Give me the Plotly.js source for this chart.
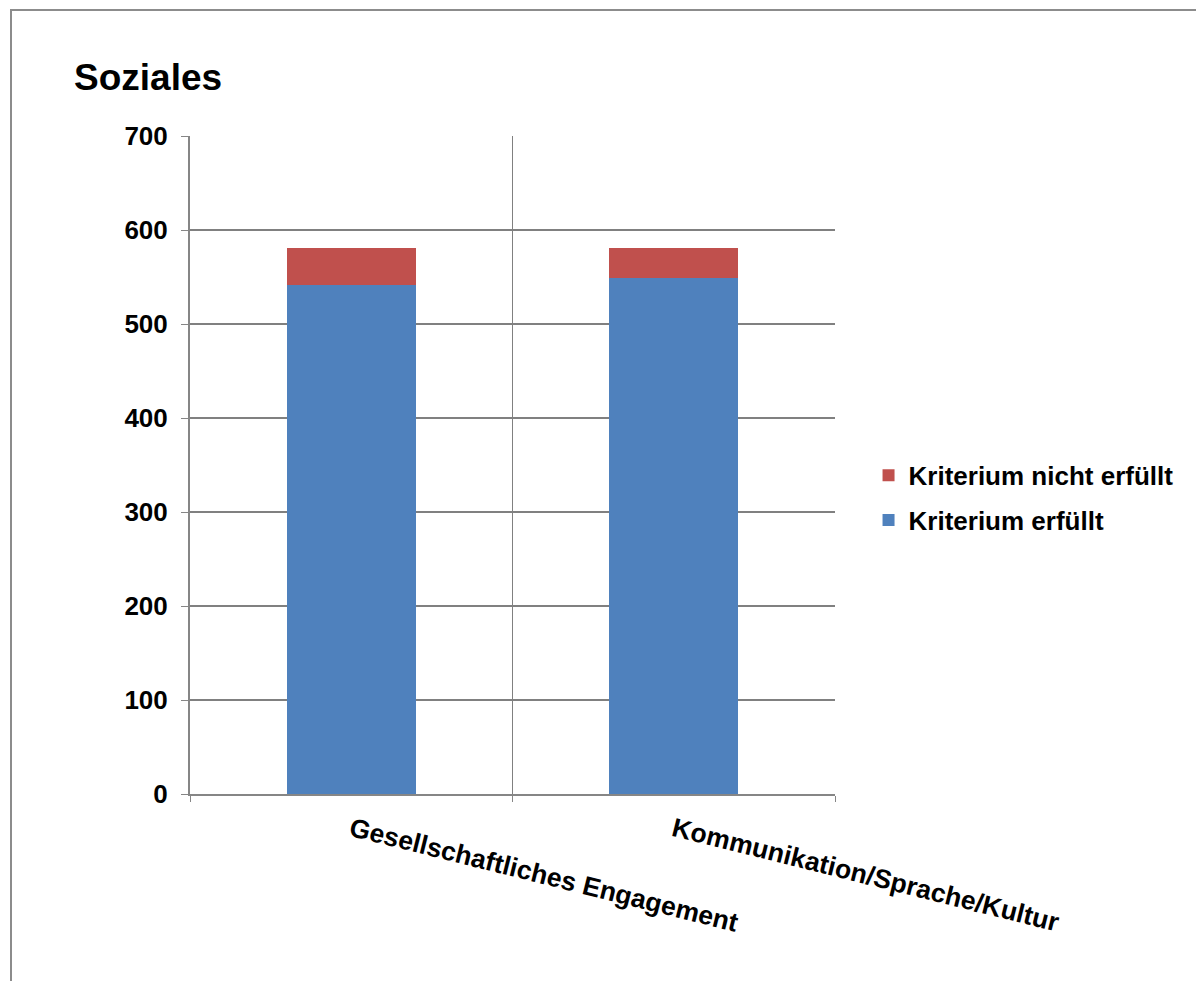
<!DOCTYPE html>
<html>
<head>
<meta charset="utf-8">
<script src="https://cdn.plot.ly/plotly-3.0.1.min.js"></script>
<style>
  html, body { margin: 0; padding: 0; background: #fff; }
  #wrap { position: relative; width: 1196px; height: 981px; overflow: hidden; }
  #chart { position: absolute; left: 0; top: 0; width: 1196px; height: 981px; }
  #frame { position: absolute; left: 10px; top: 9px; width: 1300px; height: 1100px;
           border-left: 2px solid #8c8c8c; border-top: 2px solid #8c8c8c; pointer-events: none; }
</style>
</head>
<body>
<div id="wrap">
  <div id="chart"></div>
  <div id="frame"></div>
</div>
<script>
// Kategorien und Werte
const categories = ["Gesellschaftliches Engagement", "Kommunikation/Sprache/Kultur"];
const erfuellt = [541, 549];
const nichtErfuellt = [40, 32];
const yTicks = [0, 100, 200, 300, 400, 500, 600, 700];

const FONT = "Liberation Sans, Arial, sans-serif";

const traces = [
  {
    type: "bar", name: "Kriterium erfüllt", x: categories, y: erfuellt,
    marker: { color: "#4F81BD" }, legendgroup: "b", legendrank: 2
  },
  {
    type: "bar", name: "Kriterium nicht erfüllt", x: categories, y: nichtErfuellt,
    marker: { color: "#C0504D" }, legendgroup: "a", legendrank: 1
  }
];

const layout = {
  width: 1196, height: 981,
  margin: { l: 190, r: 361, t: 136, b: 187 },
  paper_bgcolor: "#ffffff", plot_bgcolor: "#ffffff",
  barmode: "stack", bargap: 0.6,
  font: { family: FONT, color: "#000", size: 26 },
  title: {
    text: "<b>Soziales</b>", font: { family: FONT, size: 37, color: "#000" },
    xref: "container", x: 74 / 1196, xanchor: "left",
    yref: "container", y: 1 - 77 / 981, yanchor: "middle"
  },
  xaxis: {
    type: "category", tickson: "boundaries", showgrid: true, gridcolor: "#808080", gridwidth: 1.3,
    showline: true, linecolor: "#868686", linewidth: 2, mirror: false,
    ticks: "outside", ticklen: 6, tickcolor: "#868686", ticklabelstandoff: 8,
    tickangle: 14, tickfont: { family: FONT, size: 26.5, color: "#000", weight: "bold" },
    fixedrange: true
  },
  yaxis: {
    range: [0, 700], tickvals: yTicks, ticktext: yTicks.map(String),
    showgrid: true, gridcolor: "#808080", gridwidth: 1.3,
    showline: true, linecolor: "#868686", linewidth: 2,
    ticks: "outside", ticklen: 7, tickcolor: "#868686", ticklabelstandoff: 8,
    zeroline: false,
    tickfont: { family: FONT, size: 26, color: "#000", weight: "bold" },
    fixedrange: true
  },
  legend: {
    x: 1.052, xanchor: "left", y: 0.45, yanchor: "middle",
    font: { family: FONT, size: 26, color: "#000", weight: "bold" },
    traceorder: "grouped", tracegroupgap: 8, itemwidth: 30,
    bgcolor: "rgba(0,0,0,0)"
  },
  showlegend: true
};

Plotly.newPlot("chart", traces, layout, { displayModeBar: false, staticPlot: true });
</script>
</body>
</html>
